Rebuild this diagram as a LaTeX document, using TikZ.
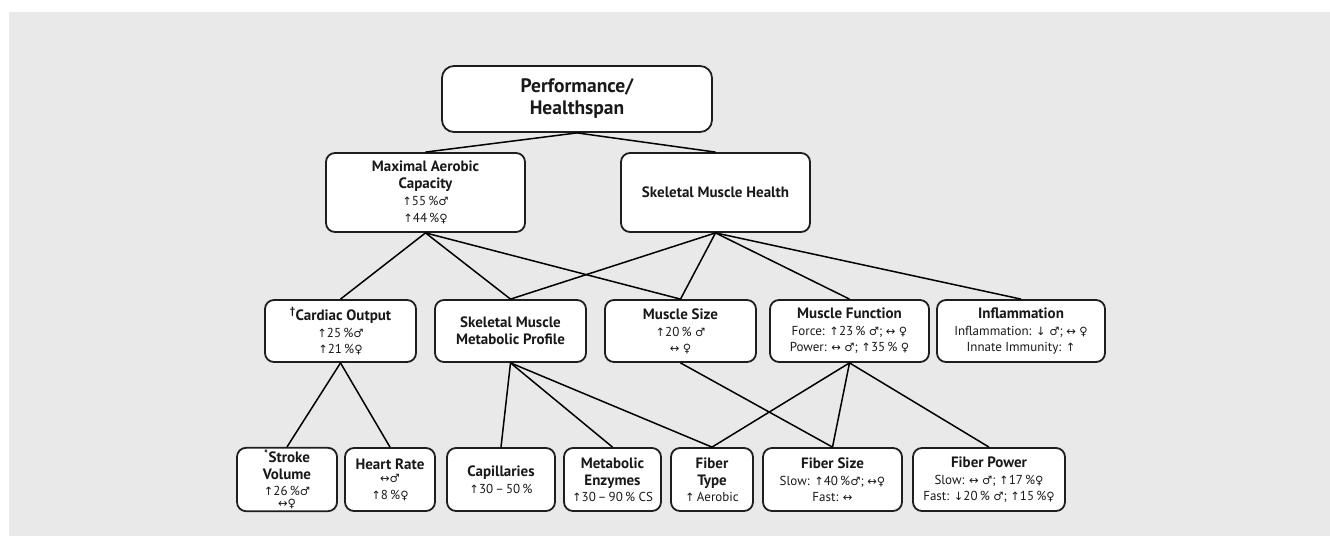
\documentclass[tikz,border=0pt]{standalone}
\usepackage{fontspec}
\setmainfont{PT Sans}
\newfontfamily\symf{DejaVu Sans}[Scale=0.88]
\newcommand\aU{{\symf ↑}}
\newcommand\aD{{\symf ↓}}
\newcommand\aLR{{\symf ↔}}
\newcommand\sM{{\symf ♂}}
\newcommand\sF{{\symf ♀}}
\newcommand\ttl[1]{{\bfseries\fontsize{15}{17}\selectfont #1}}
\definecolor{bggray}{RGB}{233,233,234}
\definecolor{edge}{RGB}{30,30,30}
\definecolor{txt}{RGB}{25,25,25}
\tikzset{
  box/.style={draw=edge, line width=1.8pt, fill=white, rounded corners=9pt,
    align=center, inner sep=2pt, text=txt, font=\fontsize{13}{17}\selectfont},
  conn/.style={line width=1.5pt, draw=black},
}
\begin{document}
\begin{tikzpicture}[x=1pt,y=-1pt]
\useasboundingbox (0,0) rectangle (1330,536);
\fill[bggray] (9,12) rectangle (1330,536);

% level 0
\node[box, rounded corners=12pt, minimum width=270pt, minimum height=66pt,
  font=\bfseries\fontsize{19.5}{22}\selectfont] (top) at (577,99) {Performance/\\Healthspan};
% level 1
\node[box, minimum width=199pt, minimum height=79pt] (mac) at (425.5,192.5)
  {\ttl{Maximal Aerobic}\\\ttl{Capacity}\\ \aU55\,\%\sM\\ \aU44\,\%\sF};
\node[box, minimum width=189pt, minimum height=79pt] (smh) at (715.5,192.5)
  {\ttl{Skeletal Muscle Health}};
% level 2
\node[box, minimum width=151pt, minimum height=62pt] (co) at (340.5,331)
  {\ttl{\textsuperscript{†}Cardiac Output}\\ \aU25\,\%\sM\\[-1pt] \aU21\,\%\sF};
\node[box, minimum width=151pt, minimum height=62pt] (smmp) at (510.5,331)
  {\ttl{Skeletal Muscle}\\\ttl{Metabolic Profile}};
\node[box, minimum width=151pt, minimum height=62pt] (ms) at (680.5,331)
  {\ttl{Muscle Size}\\ \aU20\,\% \sM\\[-1pt] \aLR\ \sF};
\node[box, minimum width=159pt, minimum height=62pt] (mf) at (849.5,331)
  {\ttl{Muscle Function}\\ Force: \aU23\,\% \sM; \aLR\ \sF\\[-1pt] Power: \aLR\ \sM; \aU35\,\% \sF};
\node[box, minimum width=168pt, minimum height=62pt] (inf) at (1021,331)
  {\ttl{Inflammation}\\ Inflammation: \aD\ \sM; \aLR\ \sF\\[-1pt] Innate Immunity: \aU};
% level 3
\node[box, minimum width=100pt, minimum height=63pt] (sv) at (287,479.5)
  {\ttl{\textsuperscript{*}Stroke}\\\ttl{Volume}\\[-1pt] \aU26\,\%\sM\\[-5pt] \aLR\sF};
\node[box, minimum width=90pt, minimum height=63pt] (hr) at (390,479.5)
  {\ttl{Heart Rate}\\[-4pt] \aLR\sM\\ \aU8\,\%\sF};
\node[box, minimum width=108pt, minimum height=63pt] (cap) at (501,479.5)
  {\ttl{Capillaries}\\ \aU30\,–\,50\,\%};
\node[box, minimum width=97pt, minimum height=63pt] (me) at (612.5,479.5)
  {\ttl{Metabolic}\\\ttl{Enzymes}\\[-1pt] \aU30\,–\,90\,\% CS};
\node[box, minimum width=82pt, minimum height=63pt] (ft) at (712,479.5)
  {\ttl{Fiber}\\\ttl{Type}\\[-1pt] \aU\,Aerobic};
\node[box, minimum width=139pt, minimum height=63pt] (fs) at (832.5,479.5)
  {\ttl{Fiber Size}\\ Slow: \aU40\,\%\sM; \aLR\sF\\[-1pt] Fast: \aLR};
\node[box, minimum width=152pt, minimum height=63pt] (fp) at (989,479.5)
  {\ttl{Fiber Power}\\ Slow: \aLR\ \sM; \aU17\,\%\sF\\[-1pt] Fast: \aD20\,\% \sM; \aU15\,\%\sF};

% connectors
\draw[conn] (top.south) -- (mac.north);
\draw[conn] (top.south) -- (smh.north);
\draw[conn] (mac.south) -- (co.north);
\draw[conn] (mac.south) -- (smmp.north);
\draw[conn] (mac.south) -- (ms.north);
\draw[conn] (smh.south) -- (smmp.north);
\draw[conn] (smh.south) -- (ms.north);
\draw[conn] (smh.south) -- (mf.north);
\draw[conn] (smh.south) -- (inf.north);
\draw[conn] (co.south) -- (sv.north);
\draw[conn] (co.south) -- (hr.north);
\draw[conn] (smmp.south) -- (cap.north);
\draw[conn] (smmp.south) -- (me.north);
\draw[conn] (smmp.south) -- (ft.north);
\draw[conn] (ms.south) -- (fs.north);
\draw[conn] (mf.south) -- (ft.north);
\draw[conn] (mf.south) -- (fs.north);
\draw[conn] (mf.south) -- (fp.north);
\end{tikzpicture}
\end{document}
